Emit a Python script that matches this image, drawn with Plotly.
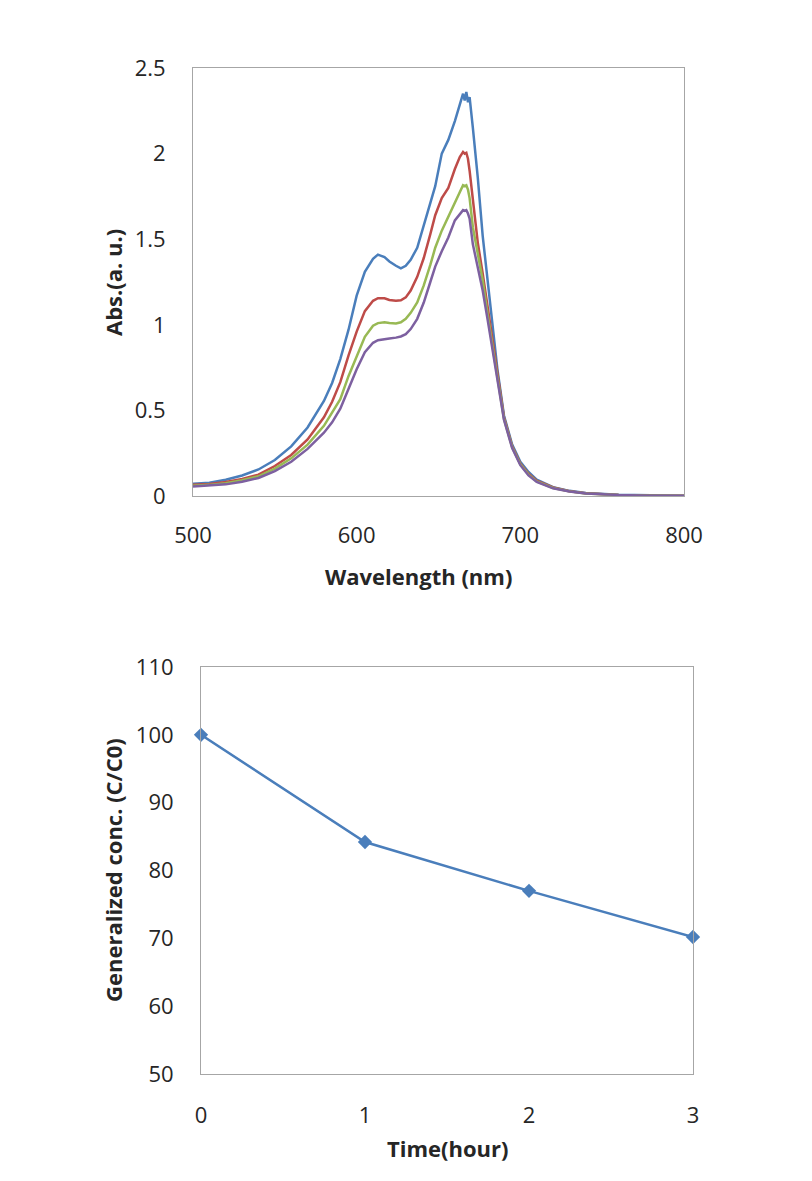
import plotly.graph_objects as go

W, H = 812, 1181
OFF = 8  # page body margin in the browser

# ---- Top chart: absorbance spectra ----
wavelength = [500, 510, 520, 530, 540, 550, 560, 570, 580, 585, 590, 595, 600, 605, 610, 613, 617, 620,
              624, 627, 630, 633, 637, 641, 645, 648, 652, 656, 660, 663, 665, 666, 667, 668, 669, 671,
              674, 677, 680, 683, 686, 690, 695, 700, 705, 710, 720, 730, 740, 760, 780, 800]

abs_blue = [0.072, 0.078, 0.095, 0.12, 0.155, 0.21, 0.29, 0.40, 0.555, 0.66, 0.80, 0.97, 1.17, 1.31, 1.385,
            1.41, 1.395, 1.37, 1.345, 1.33, 1.345, 1.38, 1.45, 1.58, 1.71, 1.81, 2.00, 2.08, 2.19, 2.28,
            2.35, 2.31, 2.36, 2.30, 2.33, 2.15, 1.86, 1.52, 1.27, 1.00, 0.74, 0.47, 0.30, 0.20, 0.14,
            0.095, 0.052, 0.030, 0.018, 0.007, 0.003, 0.001]

abs_red = [0.065, 0.07, 0.082, 0.10, 0.125, 0.175, 0.24, 0.33, 0.46, 0.55, 0.665, 0.82, 0.96, 1.08, 1.14,
           1.155, 1.155, 1.145, 1.14, 1.143, 1.16, 1.20, 1.28, 1.39, 1.53, 1.64, 1.74, 1.80, 1.91, 1.98,
           2.01, 2.00, 2.005, 1.97, 1.90, 1.74, 1.48, 1.30, 1.10, 0.90, 0.70, 0.46, 0.29, 0.19, 0.13,
           0.09, 0.05, 0.028, 0.016, 0.006, 0.002, 0.001]

abs_green = [0.06, 0.065, 0.075, 0.092, 0.115, 0.16, 0.22, 0.30, 0.41, 0.485, 0.565, 0.70, 0.82, 0.93, 0.995,
             1.01, 1.015, 1.01, 1.008, 1.015, 1.035, 1.07, 1.13, 1.23, 1.35, 1.45, 1.55, 1.63, 1.71, 1.78,
             1.815, 1.81, 1.815, 1.79, 1.74, 1.57, 1.42, 1.26, 1.06, 0.87, 0.68, 0.45, 0.285, 0.185, 0.125,
             0.085, 0.047, 0.027, 0.015, 0.006, 0.002, 0.001]

abs_purple = [0.055, 0.06, 0.068, 0.083, 0.105, 0.145, 0.20, 0.275, 0.37, 0.43, 0.51, 0.625, 0.74, 0.84, 0.895,
              0.91, 0.918, 0.92, 0.925, 0.932, 0.945, 0.975, 1.035, 1.13, 1.25, 1.34, 1.43, 1.51, 1.61, 1.65,
              1.67, 1.665, 1.67, 1.65, 1.62, 1.47, 1.34, 1.20, 1.03, 0.85, 0.67, 0.445, 0.28, 0.18, 0.12,
              0.082, 0.045, 0.026, 0.015, 0.006, 0.002, 0.001]

top_xticks = [500, 600, 700, 800]
top_yticks = [0, 0.5, 1, 1.5, 2, 2.5]
top_yticklabels = ["0", "0.5", "1", "1.5", "2", "2.5"]

# ---- Bottom chart: generalized concentration ----
time_hour = [0, 1, 2, 3]
conc = [100, 84.2, 77.0, 70.2]
bot_xticks = [0, 1, 2, 3]
bot_yticks = [50, 60, 70, 80, 90, 100, 110]

series_colors = ["#4A7EBB", "#BE4B48", "#98B954", "#7D60A0"]

fig = go.Figure()
for ys, c in zip([abs_blue, abs_red, abs_green, abs_purple], series_colors):
    fig.add_trace(go.Scatter(x=wavelength, y=ys, mode="lines", line=dict(color=c, width=2.5),
                             xaxis="x", yaxis="y", showlegend=False))

fig.add_trace(go.Scatter(x=time_hour, y=conc, mode="lines+markers",
                         line=dict(color="#4A7EBB", width=2.5),
                         marker=dict(symbol="diamond", size=11, color="#4A7EBB"),
                         xaxis="x2", yaxis="y2", showlegend=False, cliponaxis=False))

def px_x(p):
    return (p - OFF) / W

def px_y(p):
    return 1 - (p - OFF) / H

tick_font = dict(family="Open Sans, Liberation Sans, sans-serif", size=22, color="#262626")
title_font = dict(family="Open Sans, Liberation Sans, sans-serif", size=22, color="#262626")
frame = dict(showline=True, linecolor="#A6A6A6", linewidth=1, mirror=True, showgrid=False,
             zeroline=False, ticks="", tickfont=tick_font, automargin=False)

fig.update_layout(
    width=W, height=H, autosize=False,
    margin=dict(l=0, r=0, t=0, b=0),
    paper_bgcolor="white", plot_bgcolor="white",
    xaxis=dict(domain=[px_x(193), px_x(684)], range=[500, 800], tickvals=top_xticks,
               anchor="y", ticklabelstandoff=20, **frame),
    yaxis=dict(domain=[px_y(496), px_y(68)], range=[0, 2.5], tickvals=top_yticks,
               ticktext=top_yticklabels, anchor="x", ticklabelstandoff=22, **frame),
    xaxis2=dict(domain=[px_x(201), px_x(693)], range=[0, 3], tickvals=bot_xticks,
                anchor="y2", ticklabelstandoff=22, **frame),
    yaxis2=dict(domain=[px_y(1074), px_y(667)], range=[50, 110], tickvals=bot_yticks,
                anchor="x2", ticklabelstandoff=22, **frame),
)

annotations = [
    dict(text="<b>Wavelength (nm)</b>", x=px_x(418), y=px_y(576)),
    dict(text="<b>Abs.(a. u.)</b>", x=px_x(113), y=px_y(283), textangle=-90),
    dict(text="<b>Time(hour)</b>", x=px_x(448), y=px_y(1148)),
    dict(text="<b>Generalized conc. (C/C0)</b>", x=px_x(113), y=px_y(870), textangle=-90),
]
for a in annotations:
    fig.add_annotation(xref="paper", yref="paper", showarrow=False, font=title_font,
                       xanchor="center", yanchor="middle", **a)

fig.write_html("out.html")
